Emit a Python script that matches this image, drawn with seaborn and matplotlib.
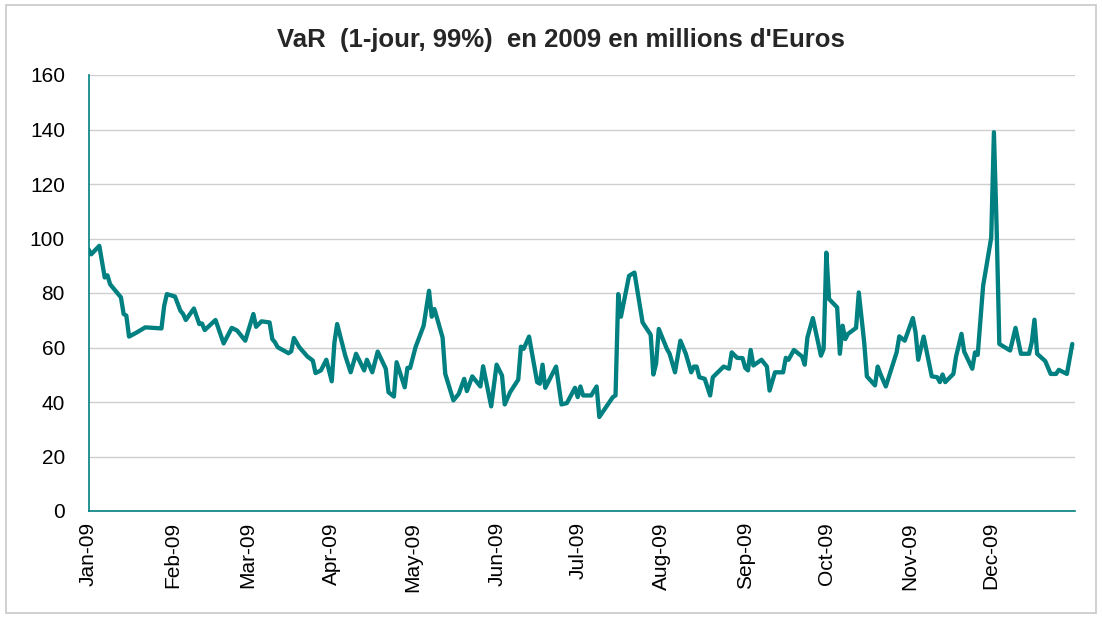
import matplotlib
matplotlib.use("Agg")
import matplotlib.pyplot as plt
import seaborn as sns
import pandas as pd
from matplotlib.patches import Rectangle

title = "VaR  (1-jour, 99%)  en 2009 en millions d'Euros"

# days since 2009-01-01
days = [0, 1, 4, 6, 7, 8, 12, 13, 14, 15, 18, 21, 27, 28, 29, 32, 34, 35, 36, 39,
        41, 42, 43, 47, 50, 53, 55, 58, 61, 62, 64, 67, 68, 69, 70, 74, 75, 76, 78, 81,
        83, 84, 86, 88, 90, 91, 92, 95, 97, 99, 102, 103, 105, 107, 110, 111, 113, 114, 117, 118,
        119, 121, 124, 126, 127, 128, 131, 132, 135, 137, 139, 140, 142, 145, 146, 149, 151, 153, 154, 156,
        159, 160, 161, 163, 166, 167, 168, 169, 173, 175, 177, 180, 181, 182, 183, 186, 188, 189, 194, 195,
        196, 197, 200, 202, 205, 208, 209, 210, 211, 214, 215, 217, 219, 221, 223, 224, 225, 226, 228, 230,
        231, 235, 237, 238, 240, 242, 243, 244, 245, 246, 249, 251, 252, 254, 257, 258, 259, 261, 264, 265,
        266, 268, 271, 272, 273, 274, 277, 278, 279, 280, 281, 284, 285, 287, 288, 291, 292, 293, 295, 299,
        300, 302, 305, 306, 307, 309, 312, 314, 315, 316, 317, 320, 321, 323, 324, 327, 328, 329, 331, 334,
        335, 336, 337, 341, 343, 345, 348, 349, 350, 351, 354, 356, 358, 359, 362, 364]

var_values = [96.0, 94.2, 97.3, 85.7, 86.5, 83.2, 78.4, 72.3, 71.7, 64.0, 65.6, 67.4, 67.0, 75.3, 79.6, 78.7, 73.5, 72.3, 70.1, 74.3,
              68.6, 68.8, 66.4, 70.1, 61.5, 67.2, 66.2, 62.5, 72.3, 67.6, 69.6, 69.2, 63.1, 61.9, 60.1, 57.9, 58.6, 63.5, 60.1, 56.7,
              55.2, 50.6, 51.6, 55.5, 47.6, 61.9, 68.6, 57.0, 50.9, 57.7, 51.6, 55.5, 50.9, 58.5, 52.2, 43.6, 42.0, 54.6, 45.4, 52.5,
              52.5, 60.1, 68.0, 80.8, 71.3, 74.1, 63.7, 50.3, 40.6, 43.0, 48.5, 44.0, 49.4, 45.7, 53.1, 38.4, 53.7, 49.7, 39.1, 43.6,
              48.2, 60.3, 59.5, 64.0, 47.3, 46.7, 53.7, 45.2, 53.0, 39.1, 39.6, 45.2, 41.8, 45.7, 42.4, 42.4, 45.7, 34.5, 41.8, 42.4,
              79.6, 71.3, 86.3, 87.5, 69.2, 64.7, 50.1, 54.0, 66.8, 59.5, 57.7, 50.9, 62.5, 57.7, 50.9, 53.0, 53.0, 49.1, 48.5, 42.4,
              49.1, 53.0, 52.2, 58.2, 56.2, 56.1, 52.5, 51.6, 59.1, 53.4, 55.5, 53.0, 44.2, 50.9, 50.9, 56.2, 55.5, 59.1, 56.7, 53.7,
              63.7, 70.8, 57.0, 59.5, 94.8, 77.8, 74.7, 57.7, 68.0, 63.1, 65.0, 67.2, 80.2, 61.9, 49.4, 46.1, 53.0, 50.3, 45.7, 58.2,
              64.1, 62.5, 70.8, 65.6, 55.5, 64.0, 49.4, 49.1, 47.3, 50.1, 47.3, 50.3, 56.7, 65.0, 58.5, 52.2, 58.2, 57.3, 82.6, 100.3,
              139.0, 104.0, 61.3, 58.9, 67.2, 57.7, 57.7, 61.9, 70.2, 57.7, 55.0, 50.3, 50.3, 51.8, 50.3, 61.3]

month_labels = ["Jan-09", "Feb-09", "Mar-09", "Apr-09", "May-09", "Jun-09",
                "Jul-09", "Aug-09", "Sep-09", "Oct-09", "Nov-09", "Dec-09", ""]
y_ticks = [0, 20, 40, 60, 80, 100, 120, 140, 160]

teal = "#008080"

sns.set_style("white")
plt.rcParams["font.family"] = ["Liberation Sans", "DejaVu Sans"]

df = pd.DataFrame({
    "date": pd.Timestamp("2009-01-01") + pd.to_timedelta(days, unit="D"),
    "VaR": var_values,
})

fig = plt.figure(figsize=(11.02, 6.19), dpi=100)
ax = fig.add_axes([88.5 / 1102, 1 - 511 / 619, (1075 - 88.5) / 1102, (511 - 75) / 619])

sns.lineplot(data=df, x="date", y="VaR", ax=ax, color=teal, linewidth=3.1)

ax.set_xlim(pd.Timestamp("2009-01-01"), pd.Timestamp("2010-01-01"))
ax.set_ylim(0, 160)
ax.set_yticks(y_ticks)
ax.set_yticklabels([str(v) for v in y_ticks], fontsize=15)
xt = pd.date_range("2009-01-01", "2010-01-01", freq="MS")
ax.set_xticks(xt)
ax.set_xticklabels(month_labels, rotation=90, fontsize=15)
ax.set_xlabel("")
ax.set_ylabel("")

ax.yaxis.grid(True, color="#cfcfcf", linewidth=1.0)
ax.xaxis.grid(False)
ax.set_axisbelow(True)
for s in ["top", "right"]:
    ax.spines[s].set_visible(False)
for s in ["left", "bottom"]:
    ax.spines[s].set_color(teal)
    ax.spines[s].set_linewidth(1.2)
ax.tick_params(axis="both", direction="out", length=5, width=1.2, color=teal,
               labelcolor="black")
ax.tick_params(axis="x", pad=3)
ax.tick_params(axis="y", pad=12)

fig.text(561 / 1102, 1 - 40 / 619, title, ha="center", va="center",
         fontsize=18.5, fontweight="bold")

fig.patches.append(Rectangle((6 / 1102, 1 - 613 / 619), 1090 / 1102, 608 / 619,
                             transform=fig.transFigure, fill=False,
                             edgecolor="#c8c8c8", linewidth=1.2))

fig.savefig("out.png", dpi=100)
